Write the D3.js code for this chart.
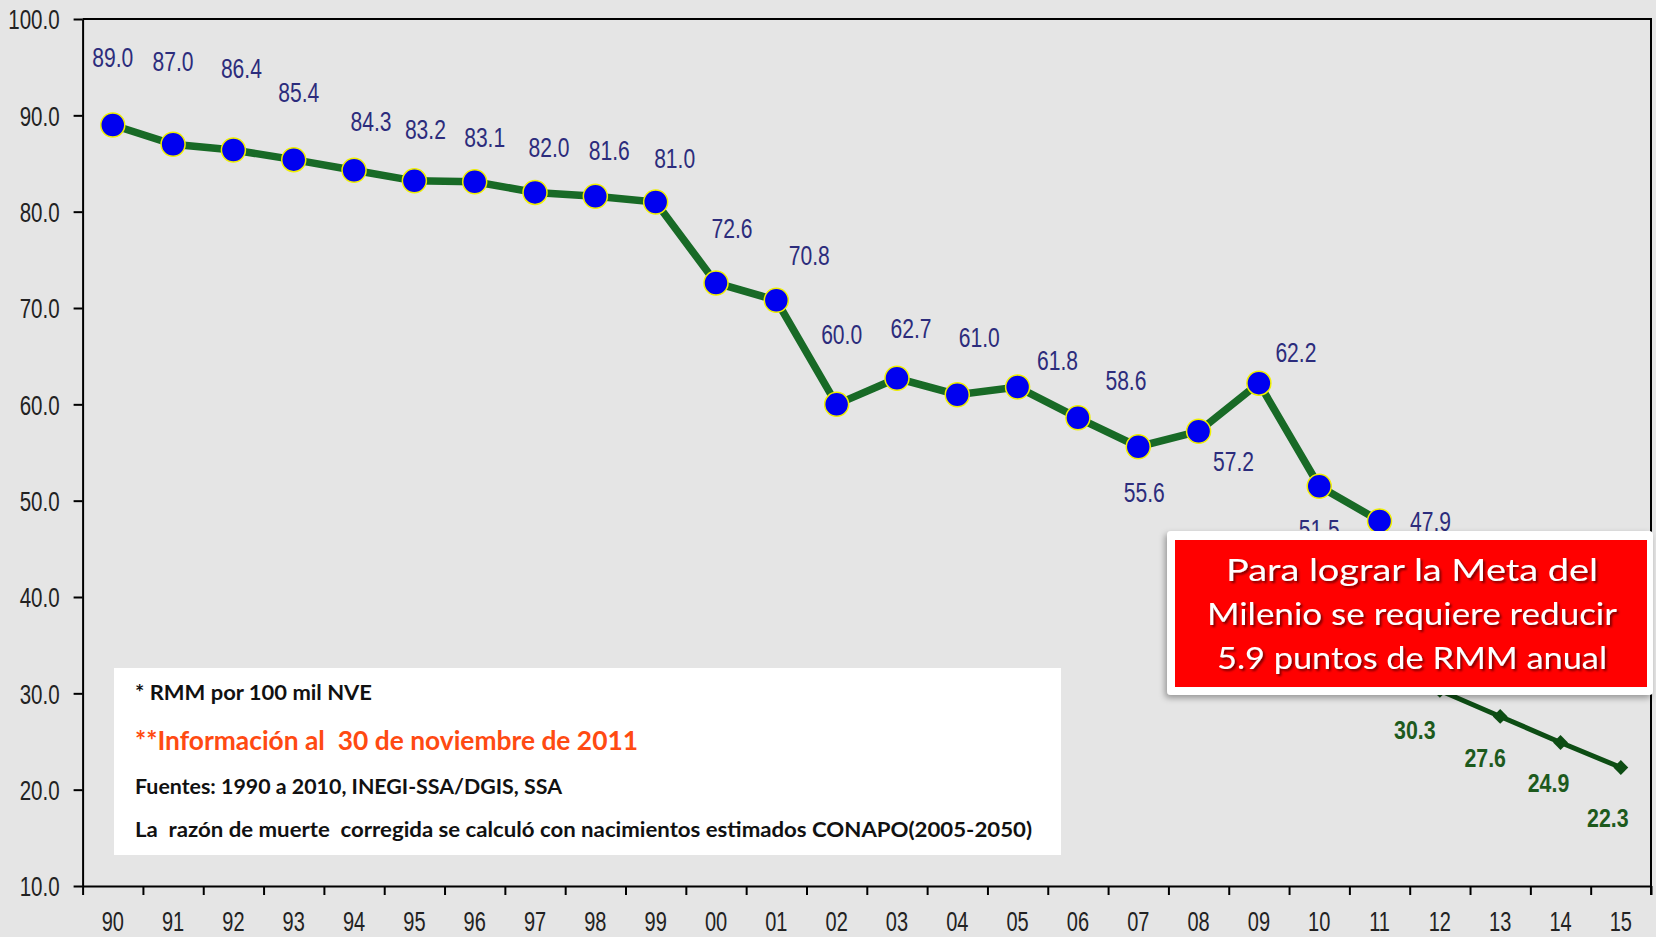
<!DOCTYPE html>
<html>
<head>
<meta charset="utf-8">
<script src="https://cdn.jsdelivr.net/npm/d3@7"></script>
<style>
  body { margin: 0; background: #e5e5e5; }
  svg { display: block; }
  .axis text { font-family: "Liberation Sans", Arial, sans-serif; font-size: 27px; fill: #222; }
  .axis path, .axis line { stroke: #000; stroke-width: 2; }
  .note { font-family: Lato, "Open Sans", sans-serif; font-weight: bold; white-space: pre; }
  .meta { font-family: Lato, "Open Sans", sans-serif; fill: #fff; }
</style>
</head>
<body>
<svg width="1656" height="937"></svg>
<script>
// años (eje x)
var years = ["90","91","92","93","94","95","96","97","98","99","00","01","02","03","04","05","06","07","08","09","10","11","12","13","14","15"];

// RMM observada 1990-2011
var observed = [89.0, 87.0, 86.4, 85.4, 84.3, 83.2, 83.1, 82.0, 81.6, 81.0, 72.6, 70.8, 60.0, 62.7, 61.0, 61.8, 58.6, 55.6, 57.2, 62.2, 51.5, 47.9];

// meta 2011-2015
var goalYears = ["11","12","13","14","15"];
var goal = [47.9, 30.3, 27.6, 24.9, 22.3];

var yTicks = [10, 20, 30, 40, 50, 60, 70, 80, 90, 100];

var notes = ["* RMM por 100 mil NVE",
  "**Información al  30 de noviembre de 2011",
  "Fuentes: 1990 a 2010, INEGI-SSA/DGIS, SSA",
  "La  razón de muerte  corregida se calculó con nacimientos estimados CONAPO(2005-2050)"];

var message = ["Para lograr la Meta del", "Milenio se requiere reducir", "5.9 puntos de RMM anual"];

// hand placement of value labels (px), as in the original slide
var obsNudge = [[0,-68],[0,-83],[8,-82],[5,-67],[17,-49],[11,-52],[10,-45],[14,-45],[14,-46],[19,-44],
  [16,-55],[33,-45],[5,-70],[14,-50],[22,-57],[40,-27],[48,-38],[6,46],[35,30],[37,-31],[0,43],[51,0]];
var goalNudge = [null,[-25,39],[-15,41],[-12,40],[-13,50]];

var svg = d3.select("svg"),
    plotL = 82.6, plotR = 1651, plotT = 19, plotB = 886;

var x = d3.scaleBand().domain(years).range([plotL, plotR]);
var xb = d3.scaleLinear().domain([0, years.length]).range([plotL, plotR]);
var y = d3.scaleLinear().domain([10, 100]).range([plotB, plotT]);
var fmt = d3.format(".1f");
var cx = function(yr) { return x(yr) + x.bandwidth() / 2; };

// squeeze text horizontally, like the condensed font of the slide
function narrow(sel, k) {
  sel.each(function() {
    var w = this.getComputedTextLength();
    d3.select(this).attr("textLength", w * k).attr("lengthAdjust", "spacingAndGlyphs");
  });
}

// frame (top + right)
svg.append("path")
    .attr("d", "M" + plotL + "," + plotT + "H" + plotR + "V" + (plotB + 9))
    .attr("fill", "none")
    .attr("stroke", "#000")
    .attr("stroke-width", 2);

svg.append("g")
    .attr("class", "axis")
    .attr("transform", "translate(" + plotL + ",0)")
    .call(d3.axisLeft(y).tickValues(yTicks).tickFormat(fmt).tickSize(9).tickSizeOuter(0).tickPadding(14))
    .selectAll("text").attr("dy", "0.36em").call(narrow, 0.76);

// boundary ticks
svg.append("g")
    .attr("class", "axis")
    .attr("transform", "translate(0," + plotB + ")")
    .call(d3.axisBottom(xb).tickValues(d3.range(0, years.length + 1)).tickFormat("").tickSize(9).tickSizeOuter(0));

// year labels centred in each band
var xl = svg.append("g")
    .attr("class", "axis")
    .attr("transform", "translate(0," + plotB + ")")
    .call(d3.axisBottom(x).tickSize(0).tickPadding(26));
xl.select(".domain").remove();
xl.selectAll("text").call(narrow, 0.74);

var line = d3.line()
    .x(function(d) { return cx(d[0]); })
    .y(function(d) { return y(d[1]); });

var obsData = observed.map(function(v, i) { return [years[i], v]; });
var goalData = goal.map(function(v, i) { return [goalYears[i], v]; });

svg.append("path")
    .datum(goalData)
    .attr("d", line)
    .attr("fill", "none")
    .attr("stroke", "#0d4d14")
    .attr("stroke-width", 5);

svg.selectAll(".gm")
    .data(goalData.slice(1))
    .enter().append("path")
    .attr("d", d3.symbol().type(d3.symbolSquare).size(110))
    .attr("transform", function(d) { return "translate(" + cx(d[0]) + "," + y(d[1]) + ") rotate(45)"; })
    .attr("fill", "#0d4d14");

svg.append("path")
    .datum(obsData)
    .attr("d", line)
    .attr("fill", "none")
    .attr("stroke", "#186a26")
    .attr("stroke-width", 7.5);

svg.selectAll(".om")
    .data(obsData)
    .enter().append("circle")
    .attr("cx", function(d) { return cx(d[0]); })
    .attr("cy", function(d) { return y(d[1]); })
    .attr("r", 12)
    .attr("fill", "#0000f0")
    .attr("stroke", "#f0f000")
    .attr("stroke-width", 1.5);

svg.selectAll(".ol")
    .data(obsData)
    .enter().append("text")
    .attr("x", function(d, i) { return cx(d[0]) + obsNudge[i][0]; })
    .attr("y", function(d, i) { return y(d[1]) + obsNudge[i][1]; })
    .attr("dy", "0.36em")
    .attr("text-anchor", "middle")
    .style("font-family", "'Liberation Sans', Arial, sans-serif")
    .style("font-size", "27px")
    .style("fill", "#2c2c7c")
    .text(function(d) { return fmt(d[1]); })
    .call(narrow, 0.78);

svg.selectAll(".gl")
    .data(goalData.slice(1))
    .enter().append("text")
    .attr("x", function(d, i) { return cx(d[0]) + goalNudge[i + 1][0]; })
    .attr("y", function(d, i) { return y(d[1]) + goalNudge[i + 1][1]; })
    .attr("dy", "0.36em")
    .attr("text-anchor", "middle")
    .style("font-family", "'Liberation Sans', Arial, sans-serif")
    .style("font-size", "26px")
    .style("font-weight", "bold")
    .style("fill", "#1d5a1d")
    .text(function(d) { return fmt(d[1]); })
    .call(narrow, 0.82);

// notes box
svg.append("rect")
    .attr("x", 114).attr("y", 668).attr("width", 947).attr("height", 187)
    .attr("fill", "#fff");

var noteStyle = [
  {y: 700, size: 21, w: 237, c: "#111"},
  {y: 750, size: 26, w: 503, c: "#ff4a12"},
  {y: 794, size: 21, w: 427, c: "#111"},
  {y: 837, size: 21, w: 897, c: "#111"}];

svg.selectAll(".note")
    .data(notes)
    .enter().append("text")
    .attr("class", "note")
    .attr("x", 135)
    .attr("y", function(d, i) { return noteStyle[i].y; })
    .attr("textLength", function(d, i) { return noteStyle[i].w; })
    .attr("lengthAdjust", "spacingAndGlyphs")
    .style("font-size", function(d, i) { return noteStyle[i].size + "px"; })
    .style("fill", function(d, i) { return noteStyle[i].c; })
    .text(function(d) { return d; });

// message box
var defs = svg.append("defs");
defs.append("filter").attr("id", "boxShadow")
    .attr("x", "-10%").attr("y", "-10%").attr("width", "120%").attr("height", "130%")
  .append("feDropShadow")
    .attr("dx", -2).attr("dy", 3).attr("stdDeviation", 3)
    .attr("flood-color", "#000").attr("flood-opacity", 0.35);
defs.append("filter").attr("id", "textShadow")
  .append("feDropShadow")
    .attr("dx", 2).attr("dy", 2).attr("stdDeviation", 0.8)
    .attr("flood-color", "#5a0000").attr("flood-opacity", 0.8);

svg.append("rect")
    .attr("x", 1167).attr("y", 531).attr("width", 486).attr("height", 164)
    .attr("rx", 4)
    .attr("fill", "#fff")
    .attr("filter", "url(#boxShadow)");
svg.append("rect")
    .attr("x", 1175).attr("y", 540).attr("width", 472).attr("height", 147)
    .attr("fill", "#ff0000");

var msgW = [372, 410, 390];
svg.selectAll(".meta")
    .data(message)
    .enter().append("text")
    .attr("class", "meta")
    .attr("x", 1412)
    .attr("y", function(d, i) { return 581 + i * 44; })
    .attr("text-anchor", "middle")
    .attr("textLength", function(d, i) { return msgW[i]; })
    .attr("lengthAdjust", "spacingAndGlyphs")
    .attr("filter", "url(#textShadow)")
    .style("font-size", "31px")
    .text(function(d) { return d; });
</script>
</body>
</html>
